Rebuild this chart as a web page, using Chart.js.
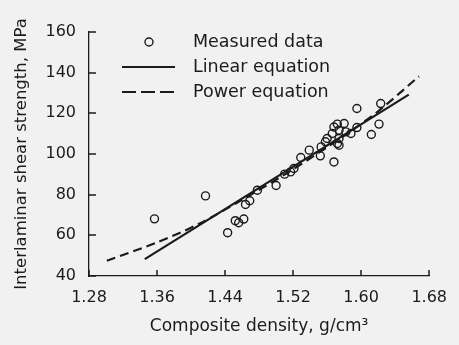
<!DOCTYPE html>
<html>
<head>
<meta charset="utf-8">
<script src="https://cdn.jsdelivr.net/npm/chart.js@4.4.1/dist/chart.umd.min.js"></script>
<style>
  html, body { margin: 0; padding: 0; background: #f1f1f1; }
  #wrap { width: 459px; height: 345px; }
</style>
</head>
<body>
<div id="wrap"><canvas id="shear" width="459" height="345"></canvas></div>
<script>
// measured points
const density = [
  1.357, 1.417, 1.443, 1.452, 1.456, 1.462, 1.464, 1.469, 1.478, 1.500,
  1.510, 1.517, 1.521, 1.529, 1.539, 1.552, 1.553, 1.558, 1.560, 1.566,
  1.568, 1.568, 1.572, 1.572, 1.574, 1.574, 1.580, 1.582, 1.588, 1.574,
  1.595, 1.595, 1.612, 1.621, 1.623
];
const strength = [
  68.1, 79.4, 61.3, 67.2, 66.2, 68.0, 75.2, 77.0, 82.2, 84.5,
  90.1, 91.2, 92.9, 98.3, 101.9, 99.1, 103.5, 106.0, 107.6, 110.1,
  96.1, 113.3, 114.7, 105.2, 111.7, 107.6, 115.0, 110.9, 110.1, 104.3,
  113.0, 122.4, 109.6, 114.7, 124.8
];

// fitted lines
const linearX = [1.3456, 1.656];
const linearY = [48.3, 129.2];
const powerX = [1.301, 1.36, 1.41, 1.46, 1.52, 1.58, 1.62, 1.668];
const powerY = [47.5, 56.5, 65.8, 77.5, 92.5, 109, 121, 138.2];

const seriesNames = ["Measured data", "Linear equation", "Power equation"];
const xTicks = [1.28, 1.36, 1.44, 1.52, 1.60, 1.68];
const yTicks = [40, 60, 80, 100, 120, 140, 160];

const ink = "#1b1b1b";
const family = "'DejaVu Sans', sans-serif";

function pairs(xs, ys) {
  return xs.map((x, i) => ({ x: x, y: ys[i] }));
}

// little ticks pointing into the plot, like the original
const innerTicks = {
  id: "innerTicks",
  afterDraw(chart) {
    const ctx = chart.ctx;
    const area = chart.chartArea;
    const xs = chart.scales.x, ys = chart.scales.y;
    ctx.save();
    ctx.strokeStyle = ink;
    ctx.lineWidth = 1.5;
    ctx.beginPath();
    xTicks.forEach((v) => {
      const px = Math.round(xs.getPixelForValue(v));
      ctx.moveTo(px, area.bottom);
      ctx.lineTo(px, area.bottom - 6);
    });
    yTicks.forEach((v) => {
      const py = Math.round(ys.getPixelForValue(v));
      ctx.moveTo(area.left, py);
      ctx.lineTo(area.left + 7, py);
    });
    ctx.stroke();
    ctx.restore();
  },
};

// legend sitting in the upper left of the plot
const boxLegend = {
  id: "boxLegend",
  afterDraw(chart) {
    const ctx = chart.ctx;
    const rows = [42, 67, 92];
    ctx.save();
    ctx.font = "17.5px " + family;
    ctx.textBaseline = "middle";
    ctx.fillStyle = ink;
    chart.data.datasets.forEach((ds, i) => {
      const y = rows[i];
      ctx.strokeStyle = ink;
      if (i === 0) {
        ctx.lineWidth = 1.4;
        ctx.beginPath();
        ctx.arc(149, y, 4, 0, Math.PI * 2);
        ctx.stroke();
      } else {
        ctx.lineWidth = 2.2;
        ctx.setLineDash(i === 2 ? [14, 5] : []);
        ctx.beginPath();
        ctx.moveTo(122, y);
        ctx.lineTo(175, y);
        ctx.stroke();
        ctx.setLineDash([]);
      }
      ctx.fillText(ds.label, 193, y);
    });
    ctx.restore();
  },
};

const config = {
  type: "scatter",
  data: {
    datasets: [
      {
        label: seriesNames[0],
        data: pairs(density, strength),
        pointRadius: 4,
        pointBorderWidth: 1.4,
        pointBorderColor: ink,
        pointBackgroundColor: "rgba(0,0,0,0)",
        showLine: false,
      },
      {
        label: seriesNames[1],
        data: pairs(linearX, linearY),
        showLine: true,
        borderColor: ink,
        borderWidth: 2.2,
        pointRadius: 0,
      },
      {
        label: seriesNames[2],
        data: pairs(powerX, powerY),
        showLine: true,
        borderColor: ink,
        borderWidth: 2.2,
        borderDash: [9, 5],
        tension: 0.3,
        pointRadius: 0,
      },
    ],
  },
  options: {
    responsive: false,
    animation: false,
    layout: { padding: { left: 0, top: 32, right: 29, bottom: 0 } },
    plugins: {
      legend: { display: false },
      tooltip: { enabled: false },
    },
    scales: {
      x: {
        type: "linear",
        min: 1.28,
        max: 1.68,
        afterBuildTicks: (s) => { s.ticks = xTicks.map((v) => ({ value: v })); },
        afterFit: (s) => { s.height = 69; },
        grid: { drawOnChartArea: false, drawTicks: false },
        border: { display: true, color: ink, width: 1.3 },
        ticks: {
          color: ink,
          padding: 12,
          maxRotation: 0,
          font: { family: family, size: 16 },
          callback: (v) => Number(v).toFixed(2),
        },
        title: {
          display: true,
          text: "Composite density, g/cm³",
          color: ink,
          font: { family: family, size: 17 },
          padding: { top: 0, bottom: 8 },
        },
      },
      y: {
        type: "linear",
        min: 40,
        max: 160,
        afterBuildTicks: (s) => { s.ticks = yTicks.map((v) => ({ value: v })); },
        afterFit: (s) => { s.width = 89; },
        grid: { drawOnChartArea: false, drawTicks: false },
        border: { display: true, color: ink, width: 1.3 },
        ticks: {
          color: ink,
          padding: 13,
          font: { family: family, size: 16 },
        },
        title: {
          display: true,
          text: "Interlaminar shear strength, MPa",
          color: ink,
          font: { family: family, size: 16.5 },
          padding: { top: 12, bottom: 0 },
        },
      },
    },
  },
  plugins: [innerTicks, boxLegend],
};

new Chart(document.getElementById("shear"), config);
</script>
</body>
</html>
